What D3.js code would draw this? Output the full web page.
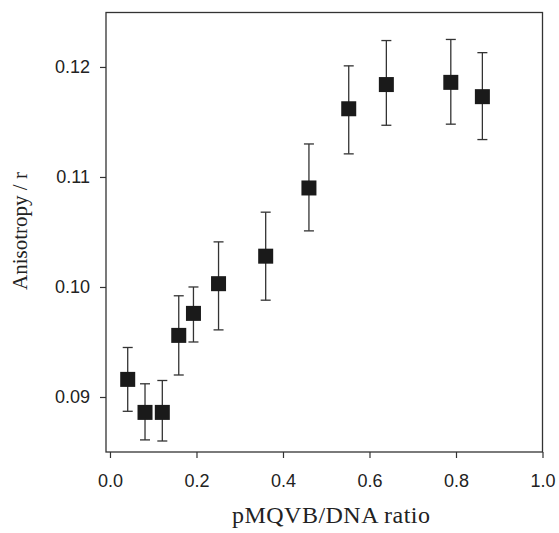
<!DOCTYPE html>
<html>
<head>
<meta charset="utf-8">
<script src="https://cdn.jsdelivr.net/npm/d3@7"></script>
<style>
  body { margin: 0; background: #fff; }
  .tick text { font-family: "Liberation Sans", Arial, sans-serif; font-size: 18px; fill: #222; }
  .axis-title { font-family: "Liberation Serif", "Times New Roman", serif; font-size: 21px; fill: #222; }
</style>
</head>
<body>
<div id="chart"></div>
<script>
// Dados
const ratio = [0.041, 0.081, 0.121, 0.159, 0.193, 0.251, 0.360, 0.460, 0.552, 0.639, 0.788, 0.861];
const anisotropy = [0.0916, 0.0886, 0.0886, 0.0956, 0.0976, 0.1003, 0.1028, 0.1090, 0.1162, 0.1184, 0.1186, 0.1173];
const errTop = [0.0945, 0.0912, 0.0915, 0.0992, 0.1000, 0.1041, 0.1068, 0.1130, 0.1201, 0.1224, 0.1225, 0.1213];
const errBottom = [0.0887, 0.0861, 0.0860, 0.0920, 0.0950, 0.0961, 0.0988, 0.1051, 0.1121, 0.1147, 0.1148, 0.1134];
const xTicks = [0.0, 0.2, 0.4, 0.6, 0.8, 1.0];
const yTicks = [0.09, 0.10, 0.11, 0.12];

const data = ratio.map((r, i) => ({ x: r, y: anisotropy[i], hi: errTop[i], lo: errBottom[i] }));

const width = 559, height = 533;
const margin = { top: 12.5, right: 16.5, bottom: 81, left: 106 };
const w = width - margin.left - margin.right;
const h = height - margin.top - margin.bottom;

const svg = d3.select('#chart').append('svg')
  .attr('width', width)
  .attr('height', height);

const g = svg.append('g')
  .attr('transform', `translate(${margin.left},${margin.top})`);

// Escalas
const x = d3.scaleLinear().domain([-0.0092, 1.0]).range([0, w]);
const y = d3.scaleLinear().domain([0.085, 0.12495]).range([h, 0]);

// Eixos
const xAxis = d3.axisBottom(x).tickValues(xTicks).tickFormat(d3.format('.1f')).tickSize(6).tickPadding(16).tickSizeOuter(0);
const yAxis = d3.axisLeft(y).tickValues(yTicks).tickFormat(d3.format('.2f')).tickSize(6).tickPadding(10).tickSizeOuter(0);

const xg = g.append('g').attr('transform', `translate(0,${h})`).call(xAxis);
const yg = g.append('g').call(yAxis);
[xg, yg].forEach(a => {
  a.select('.domain').remove();
  a.selectAll('.tick line').attr('stroke', '#333').attr('stroke-width', 1.2);
});

// Moldura
g.append('rect')
  .attr('x', 0).attr('y', 0)
  .attr('width', w).attr('height', h)
  .attr('fill', 'none')
  .attr('stroke', '#333')
  .attr('stroke-width', 1.3);

// Barras de erro
const cap = 5;
const eb = g.selectAll('.err').data(data).enter().append('g').attr('class', 'err')
  .attr('stroke', '#333').attr('stroke-width', 1.3);
eb.append('line')
  .attr('x1', d => x(d.x)).attr('x2', d => x(d.x))
  .attr('y1', d => y(d.hi)).attr('y2', d => y(d.lo));
eb.append('line')
  .attr('x1', d => x(d.x) - cap).attr('x2', d => x(d.x) + cap)
  .attr('y1', d => y(d.hi)).attr('y2', d => y(d.hi));
eb.append('line')
  .attr('x1', d => x(d.x) - cap).attr('x2', d => x(d.x) + cap)
  .attr('y1', d => y(d.lo)).attr('y2', d => y(d.lo));

// Quadrados
const s = 15;
g.selectAll('.pt').data(data).enter().append('rect')
  .attr('class', 'pt')
  .attr('x', d => x(d.x) - s / 2)
  .attr('y', d => y(d.y) - s / 2)
  .attr('width', s).attr('height', s)
  .attr('fill', '#1a1a1a');

// Títulos dos eixos
svg.append('text')
  .attr('class', 'axis-title')
  .attr('x', 232)
  .attr('y', 523)
  .attr('textLength', 198)
  .attr('lengthAdjust', 'spacing')
  .style('font-size', '24px')
  .text('pMQVB/DNA ratio');

svg.append('text')
  .attr('class', 'axis-title')
  .attr('transform', `translate(27,231) rotate(-90)`)
  .attr('text-anchor', 'middle')
  .text('Anisotropy / r');
</script>
</body>
</html>
